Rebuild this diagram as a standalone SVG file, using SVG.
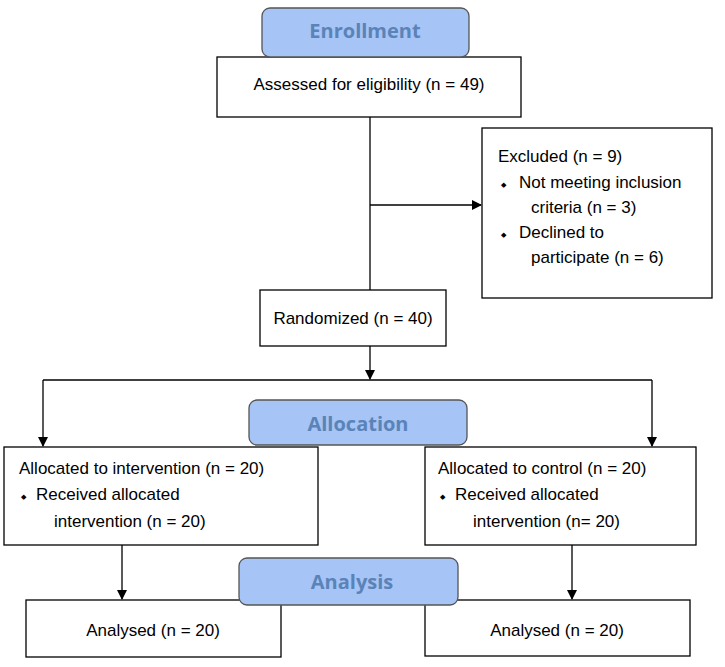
<svg xmlns="http://www.w3.org/2000/svg" width="725" height="667" viewBox="0 0 725 667">
<defs>
<style>
.box{fill:#fff;stroke:#000;stroke-width:1.3}
.hdr{fill:#a6c4f5;stroke:#555;stroke-width:1.3}
.ht{font-family:"Open Sans","Liberation Sans",sans-serif;font-weight:bold;font-size:20px;fill:#5a83b8;text-anchor:middle}
.t{font-family:"Liberation Sans",Arial,sans-serif;font-size:17px;fill:#000}
.b{font-family:"Liberation Sans",Arial,sans-serif;font-size:7px;fill:#000}
.c{text-anchor:middle}
.ln{stroke:#000;stroke-width:1.3;fill:none}
</style>
<marker id="ar" markerWidth="10" markerHeight="10" refX="9" refY="5" orient="auto" markerUnits="userSpaceOnUse"><path d="M0,0 L10,5 L0,10 Z" fill="#000"/></marker>
</defs>
<g id="connectors">
<path class="ln" d="M370,117 V290"/>
<path class="ln" d="M370,205 H481" marker-end="url(#ar)"/>
<path class="ln" d="M370,346 V379" marker-end="url(#ar)"/>
<path class="ln" d="M43,380 H652"/>
<path class="ln" d="M43,380 V446" marker-end="url(#ar)"/>
<path class="ln" d="M652,380 V446" marker-end="url(#ar)"/>
<path class="ln" d="M122,545 V599" marker-end="url(#ar)"/>
<path class="ln" d="M572,545 V599" marker-end="url(#ar)"/>
</g>
<g id="assessed"><rect class="box" x="217" y="57" width="304" height="60"/><text class="t c" x="369" y="90">Assessed for eligibility (n = 49)</text></g>
<g id="enrollment"><rect class="hdr" x="262" y="8" width="207" height="49" rx="8"/><text class="ht" x="365" y="38">Enrollment</text></g>
<g id="excluded"><rect class="box" x="482" y="128" width="230" height="170"/>
<text class="t" x="498" y="162">Excluded (n = 9)</text>
<text class="b" x="501" y="187">◆</text><text class="t" x="519" y="188">Not meeting inclusion</text>
<text class="t" x="531" y="213">criteria (n = 3)</text>
<text class="b" x="501" y="237">◆</text><text class="t" x="519" y="238">Declined to</text>
<text class="t" x="531" y="263">participate (n = 6)</text></g>
<g id="randomized"><rect class="box" x="260" y="290" width="186" height="56"/><text class="t c" x="353" y="324">Randomized (n = 40)</text></g>
<g id="alloc-int"><rect class="box" x="4" y="447" width="314" height="98"/>
<text class="t" x="19" y="474">Allocated to intervention (n = 20)</text>
<text class="b" x="21" y="499">◆</text><text class="t" x="36" y="500">Received allocated</text>
<text class="t" x="54" y="527">intervention (n = 20)</text></g>
<g id="alloc-ctl"><rect class="box" x="425" y="447" width="271" height="98"/>
<text class="t" x="438" y="474">Allocated to control (n = 20)</text>
<text class="b" x="440" y="499">◆</text><text class="t" x="455" y="500">Received allocated</text>
<text class="t" x="473" y="527">intervention (n= 20)</text></g>
<g id="allocation"><rect class="hdr" x="249" y="400" width="218" height="45" rx="8"/><text class="ht" x="358" y="431">Allocation</text></g>
<g id="an-int"><rect class="box" x="26" y="600" width="255" height="57"/><text class="t c" x="153" y="636">Analysed (n = 20)</text></g>
<g id="an-ctl"><rect class="box" x="425" y="600" width="265" height="56"/><text class="t c" x="557" y="636">Analysed (n = 20)</text></g>
<g id="analysis"><rect class="hdr" x="239" y="558" width="219" height="47" rx="8"/><text class="ht" x="352" y="589">Analysis</text></g>
</svg>
